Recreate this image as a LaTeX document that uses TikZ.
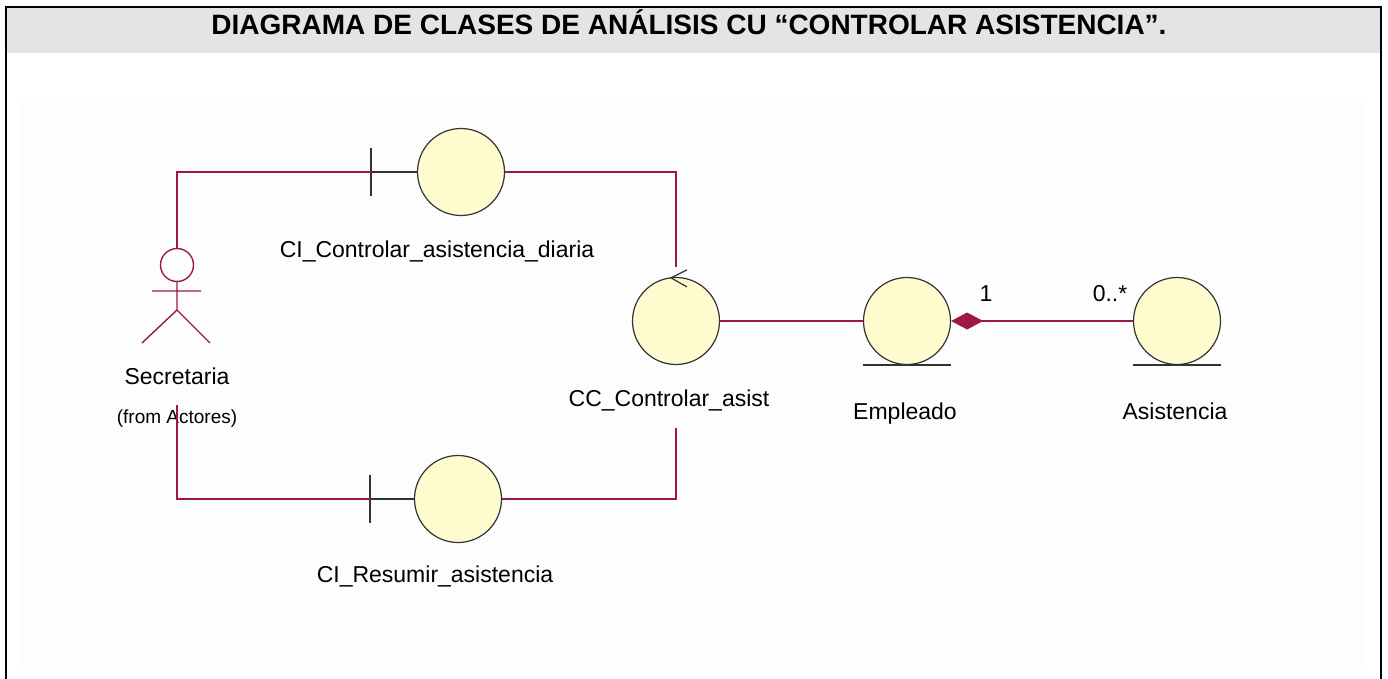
\documentclass[tikz,border=0pt]{standalone}
\usepackage{fontspec}
\setmainfont{Liberation Sans}
\usetikzlibrary{arrows.meta,calc}
\definecolor{rosered}{RGB}{158,24,68}
\definecolor{roseyel}{RGB}{254,252,206}
\definecolor{titlegray}{RGB}{228,228,228}
\definecolor{sheet}{RGB}{253,253,253}
\begin{document}
\begin{tikzpicture}[x=1pt,y=-1pt,
  cls/.style={circle,draw=black!80,line width=1.2pt,fill=roseyel,minimum size=87pt,inner sep=0pt},
  lbl/.style={anchor=base,font=\fontsize{23}{26}\selectfont},
  assoc/.style={draw=rosered,line width=1.6pt},
  stub/.style={draw=black!80,line width=1.4pt}]
\useasboundingbox (0,0) rectangle (1388,679);
% frame and title
\fill[titlegray] (7,8) rectangle (1380,53);
\fill[sheet] (20,98) rectangle (1365,668);
\draw[line width=2pt] (6,679) -- (6,7) -- (1381,7) -- (1381,679);
\node (title) [anchor=base,font=\bfseries\fontsize{28}{32}\selectfont] at (689,35) {DIAGRAMA DE CLASES DE ANÁLISIS CU “CONTROLAR ASISTENCIA”.};

% actor
\node (sec) [circle,draw=rosered,line width=1.4pt,minimum size=33pt,inner sep=0pt] at (177,265) {};
\draw[rosered,line width=1.4pt] (sec.south) -- (177,310) -- (142,343) (177,310) -- (210,343) (152,291) -- (201,291);
\node (secl) [lbl] at (177,384) {Secretaria};
\node (secf) [anchor=base,font=\fontsize{19}{22}\selectfont] at (177,423) {(from Actores)};
\coordinate (secb) at (177,405);

% boundaries
\node (b1) [cls] at (461,172) {};
\draw[stub] (b1.west) -- ++(-46,0) coordinate (b1t) ++(0,-24) -- ++(0,48);
\node (b1l) [lbl] at (437,257) {CI\_Controlar\_asistencia\_diaria};
\node (b2) [cls] at (458,499) {};
\draw[stub] (b2.west) -- ++(-44,0) coordinate (b2t) ++(0,-24) -- ++(0,48);
\node (b2l) [lbl] at (435,582) {CI\_Resumir\_asistencia};

% control
\node (cc) [cls] at (676,321) {};
\draw[stub,line width=1.2pt] ($(cc.north)+(11,-7)$) -- ($(cc.north)+(-5,1)$) -- ($(cc.north)+(11,10)$);
\node (ccl) [lbl] at (669,406) {CC\_Controlar\_asist};
\coordinate (ccb) at (676,428);

% entities
\node (emp) [cls] at (907,321) {};
\draw[stub] ([xshift=-44pt]emp.south) -- ([xshift=44pt]emp.south);
\node (empl) [lbl] at (905,419) {Empleado};
\node (asi) [cls] at (1177,321) {};
\draw[stub] ([xshift=-44pt]asi.south) -- ([xshift=44pt]asi.south);
\node (asil) [lbl] at (1175,419) {Asistencia};
\node (m1) [lbl] at (986,301) {1};
\node (m2) [lbl] at (1110,301) {0..*};

\draw[assoc] (sec.north) |- (b1t);
\draw[assoc] (secb) |- (b2t);
\draw[assoc,shorten >=10pt] (b1.east) -| (cc.north);
\draw[assoc] (ccb) |- (b2.east);
\draw[assoc] (cc.east) -- (emp.west);
\draw[assoc,{Diamond[length=32pt,width=17pt]}-] (emp.east) -- (asi.west);
\end{tikzpicture}
\end{document}
